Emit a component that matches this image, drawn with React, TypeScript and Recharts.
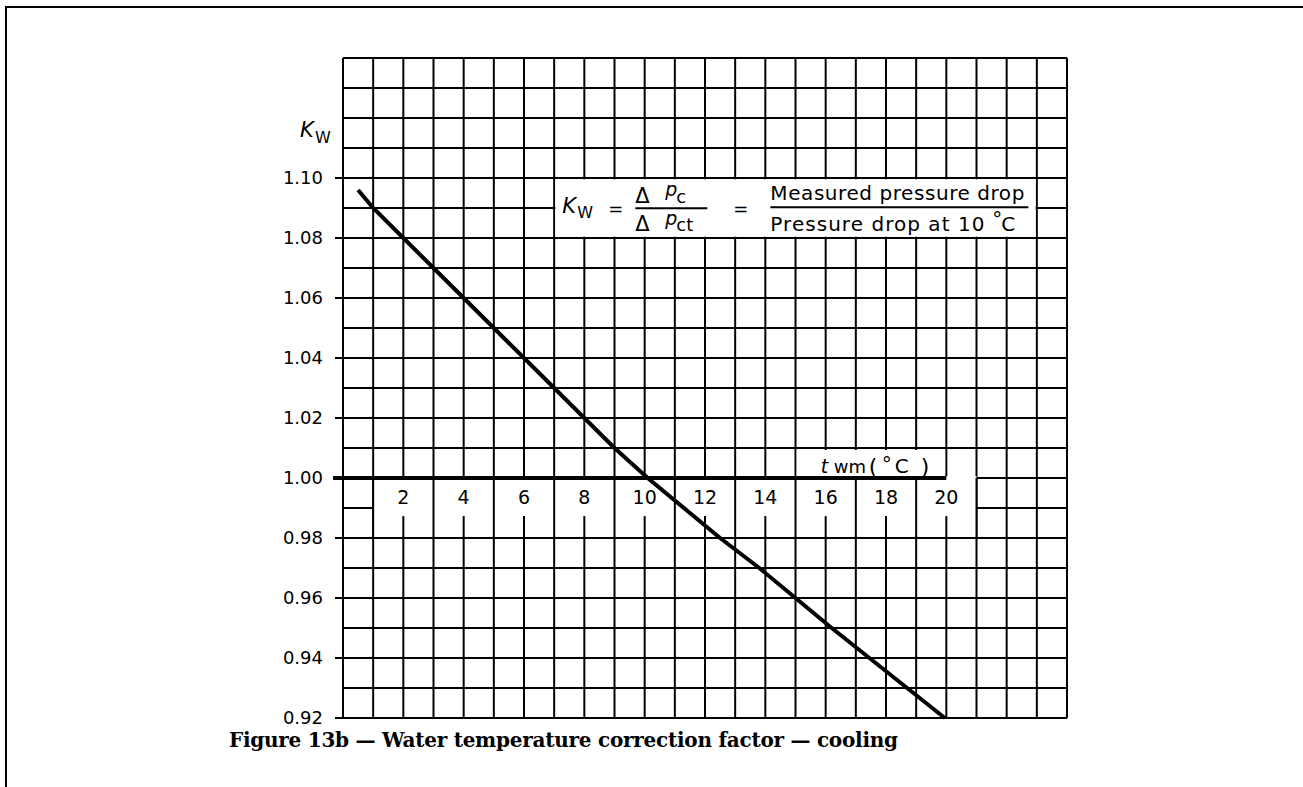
import { LineChart, Line, XAxis, YAxis, CartesianGrid, ReferenceArea, ReferenceLine } from 'recharts'

// water temperature (°C) and correction factor Kw
const temps = [0.5, 1, 2, 3, 4, 5, 6, 7, 8, 9, 10.1, 12.5, 13.8, 15, 16.2, 17.45, 18.7, 19.95]
const kwValues = [1.096, 1.09, 1.08, 1.07, 1.06, 1.05, 1.04, 1.03, 1.02, 1.01, 1.0, 0.98, 0.97, 0.96, 0.95, 0.94, 0.93, 0.92]

const yTicks = [0.92, 0.94, 0.96, 0.98, 1.0, 1.02, 1.04, 1.06, 1.08, 1.1]
const xTickValues = [2, 4, 6, 8, 10, 12, 14, 16, 18, 20]
const xTickLabels = ['2', '4', '6', '8', '10', '12', '14', '16', '18', '20']
const dividerValues = [1, 3, 5, 7, 9, 11, 13, 15, 17, 19, 21]

const data = temps.map((t, i) => ({ t, kw: kwValues[i] }))

// graph paper: one line per degree and per 0.01
const gridX = Array.from({ length: 25 }, (_, i) => i)
const gridY = Array.from({ length: 23 }, (_, i) => Math.round((0.92 + i * 0.01) * 100) / 100)

const font = 'DejaVu Sans, sans-serif'

const FormulaLabel = (props: any) => {
  const { x, y } = props.viewBox
  const t = { fill: '#000', fontFamily: font }
  return (
    <g>
      <text {...t} x={x + 7} y={y + 34} fontSize={21} fontStyle='italic'>K</text>
      <text {...t} x={x + 22} y={y + 39} fontSize={16}>W</text>
      <text {...t} x={x + 53} y={y + 36} fontSize={18}>=</text>
      <text {...t} x={x + 80} y={y + 24} fontSize={21}>Δ</text>
      <text {...t} x={x + 110} y={y + 17} fontSize={19} fontStyle='italic'>p</text>
      <text {...t} x={x + 121} y={y + 24} fontSize={18}>c</text>
      <line x1={x + 80} x2={x + 152} y1={y + 29} y2={y + 29} stroke='#000' strokeWidth={2} />
      <text {...t} x={x + 80} y={y + 52} fontSize={21}>Δ</text>
      <text {...t} x={x + 110} y={y + 46} fontSize={19} fontStyle='italic'>p</text>
      <text {...t} x={x + 121} y={y + 52} fontSize={18}>ct</text>
      <text {...t} x={x + 178} y={y + 36} fontSize={18}>=</text>
      <text {...t} x={x + 215} y={y + 21} fontSize={20} textLength={254} lengthAdjust='spacing'>Measured pressure drop</text>
      <line x1={x + 215} x2={x + 473} y1={y + 28} y2={y + 28} stroke='#000' strokeWidth={2} />
      <text {...t} x={x + 215} y={y + 52} fontSize={20} textLength={214} lengthAdjust='spacing'>Pressure drop at 10</text>
      <text {...t} x={x + 437} y={y + 47} fontSize={20}>°</text>
      <text {...t} x={x + 446} y={y + 52} fontSize={20}>C</text>
    </g>
  )
}

const AxisTitle = (props: any) => {
  const { x, y } = props.viewBox
  const t = { fill: '#000', fontFamily: font }
  return (
    <g>
      <text {...t} x={x + 24} y={y + 23} fontSize={19} fontStyle='italic'>t</text>
      <text {...t} x={x + 37} y={y + 23} fontSize={18}>wm</text>
      <text {...t} x={x + 72} y={y + 24} fontSize={22}>(</text>
      <text {...t} x={x + 85} y={y + 21} fontSize={20}>°</text>
      <text {...t} x={x + 98} y={y + 23} fontSize={20}>C</text>
      <text {...t} x={x + 124} y={y + 24} fontSize={22}>)</text>
    </g>
  )
}

const KwLabel = (props: any) => {
  const { x, y } = props.viewBox
  return (
    <g>
      <text x={x + 17} y={y + 79} fill='#000' fontFamily={font} fontSize={21} fontStyle='italic'>K</text>
      <text x={x + 32} y={y + 85} fill='#000' fontFamily={font} fontSize={16}>W</text>
    </g>
  )
}

export default function App() {
  return (
    <div style={{ position: 'absolute', left: 0, top: 0, width: 1303, height: 787, overflow: 'hidden', background: '#fff' }}>
      <div style={{ position: 'absolute', left: 5, top: 6, width: 1400, height: 900, borderLeft: '2.5px solid #000', borderTop: '2.5px solid #000' }} />
      <div style={{ position: 'absolute', left: 0, top: 0 }}>
        <LineChart width={1303} height={787} data={data} margin={{ top: 58, right: 236, bottom: 69, left: 283 }}>
          <CartesianGrid stroke='#000' strokeWidth={2} strokeOpacity={1} verticalValues={gridX} horizontalValues={gridY} />
          <XAxis dataKey='t' type='number' domain={[0, 24]} hide />
          <YAxis
            type='number'
            domain={[0.92, 1.14]}
            ticks={yTicks}
            width={60}
            tickSize={8}
            tickMargin={12}
            stroke='#000'
            strokeWidth={2}
            tick={{ fill: '#000', fontSize: 18, fontFamily: font }}
            tickFormatter={(v) => v.toFixed(2)}
            label={(props: any) => <KwLabel {...props} />}
          />
          {/* white panels cut out of the graph paper */}
          <ReferenceArea x1={7.04} x2={22.96} y1={1.0804} y2={1.0996} fill='#fff' fillOpacity={1} stroke='none' label={(props: any) => <FormulaLabel {...props} />} />
          <ReferenceArea x1={1} x2={21} y1={0.9804} y2={1.0006} fill='#fff' fillOpacity={1} stroke='none' />
          <ReferenceArea x1={15.04} x2={19.96} y1={1.0} y2={1.0093} fill='#fff' fillOpacity={1} stroke='none' label={(props: any) => <AxisTitle {...props} />} />
          {dividerValues.map((v) => (
            <ReferenceLine key={'d' + v} segment={[{ x: v, y: 0.98 }, { x: v, y: 1.0 }]} stroke='#000' strokeWidth={2} />
          ))}
          {xTickValues.map((v, i) => (
            <ReferenceLine
              key={'t' + v}
              segment={[{ x: v, y: 0.98 }, { x: v, y: 0.9873 }]}
              stroke='#000'
              strokeWidth={2}
              label={{ value: xTickLabels[i], position: 'top', offset: 12, fill: '#000', fontSize: 19, fontFamily: font }}
            />
          ))}
          <ReferenceLine segment={[{ x: -0.33, y: 1.0 }, { x: 20, y: 1.0 }]} stroke='#000' strokeWidth={4} ifOverflow='visible' />
          <Line dataKey='kw' type='linear' stroke='#000' strokeWidth={4} dot={false} isAnimationActive={false} />
        </LineChart>
      </div>
      <svg width={1303} height={787} style={{ position: 'absolute', left: 0, top: 0, pointerEvents: 'none' }}>
        <text x={563.5} y={747} textAnchor='middle' fontFamily='DejaVu Serif, serif' fontWeight='bold' fontSize={20} textLength={669} lengthAdjust='spacing'>
          Figure 13b — Water temperature correction factor — cooling
        </text>
      </svg>
    </div>
  )
}
